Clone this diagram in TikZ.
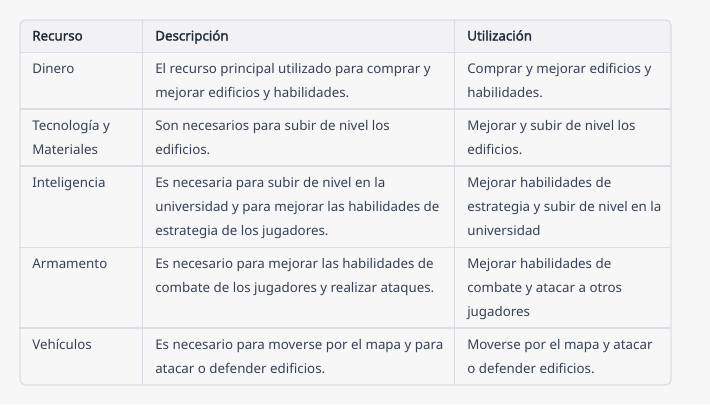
\documentclass[tikz,border=0pt]{standalone}
\usepackage{fontspec}
\setmainfont{Noto Sans}
\newfontfamily\headfont{Noto Sans}[FakeBold=1.6]
\definecolor{pagebg}{HTML}{F7F7F8}
\definecolor{headbg}{HTML}{F2F2F4}
\definecolor{gridc}{HTML}{DCDCE4}
\definecolor{cellc}{HTML}{374151}
\definecolor{headc}{HTML}{1F2937}

\begin{document}
\begin{tikzpicture}[x=0.75pt,y=-0.75pt]

		\tikzset{cell/.style = {anchor=base west,inner sep=0pt,align=left,text=cellc,font=\fontsize{10}{18}\selectfont}}
		\tikzset{head/.style = {cell,text=headc,font=\headfont\fontsize{10}{18}\selectfont}}
		\tikzset{grid/.style = {draw=gridc,line width=0.9pt}}
		\fill[pagebg] (0,0) rectangle (710,404);
		\useasboundingbox (0,0) rectangle (710,404);
		% frame
		\fill[headbg,rounded corners=4pt] (20,20) rectangle (671,52.5);
		\fill[headbg] (20,30) rectangle (671,52.5);
		\draw[grid,rounded corners=4pt] (20,20) rectangle (671,385);
		\coordinate (c1t) at (142.5,20);
		\coordinate (c1b) at (142.5,385);
		\coordinate (c2t) at (454.5,20);
		\coordinate (c2b) at (454.5,385);
		\draw[grid] (c1t) -- (c1b);
		\draw[grid] (c2t) -- (c2b);
		\foreach \y in {52.5,109,166,247.5,328}
			\draw[grid] (20,\y) -- (671,\y);
		% header
		\node[head] (h1) at (32,40.5) {Recurso};
		\node[head] (h2) at (155,40.5) {Descripción};
		\node[head] (h3) at (467,40.5) {Utilización};
		% rows (base = last line)
		\node[cell] (r1) at (32,73.5) {Dinero};
		\node[cell] (d1) at (155,97.5) {El recurso principal utilizado para comprar y\\mejorar edificios y habilidades.};
		\node[cell] (u1) at (467,97.5) {Comprar y mejorar edificios y\\habilidades.};
		\node[cell] (r2) at (32,154.5) {Tecnología y\\Materiales};
		\node[cell] (d2) at (155,154.5) {Son necesarios para subir de nivel los\\edificios.};
		\node[cell] (u2) at (467,154.5) {Mejorar y subir de nivel los\\edificios.};
		\node[cell] (r3) at (32,187.5) {Inteligencia};
		\node[cell] (d3) at (155,235.5) {Es necesaria para subir de nivel en la\\universidad y para mejorar las habilidades de\\estrategia de los jugadores.};
		\node[cell] (u3) at (467,235.5) {Mejorar habilidades de\\estrategia y subir de nivel en la\\universidad};
		\node[cell] (r4) at (32,268.5) {Armamento};
		\node[cell] (d4) at (155,292.5) {Es necesario para mejorar las habilidades de\\combate de los jugadores y realizar ataques.};
		\node[cell] (u4) at (467,316.5) {Mejorar habilidades de\\combate y atacar a otros\\jugadores};
		\node[cell] (r5) at (32,349.5) {Vehículos};
		\node[cell] (d5) at (155,373.5) {Es necesario para moverse por el mapa y para\\atacar o defender edificios.};
		\node[cell] (u5) at (467,373.5) {Moverse por el mapa y atacar\\o defender edificios.};
		\end{tikzpicture}
\end{document}
